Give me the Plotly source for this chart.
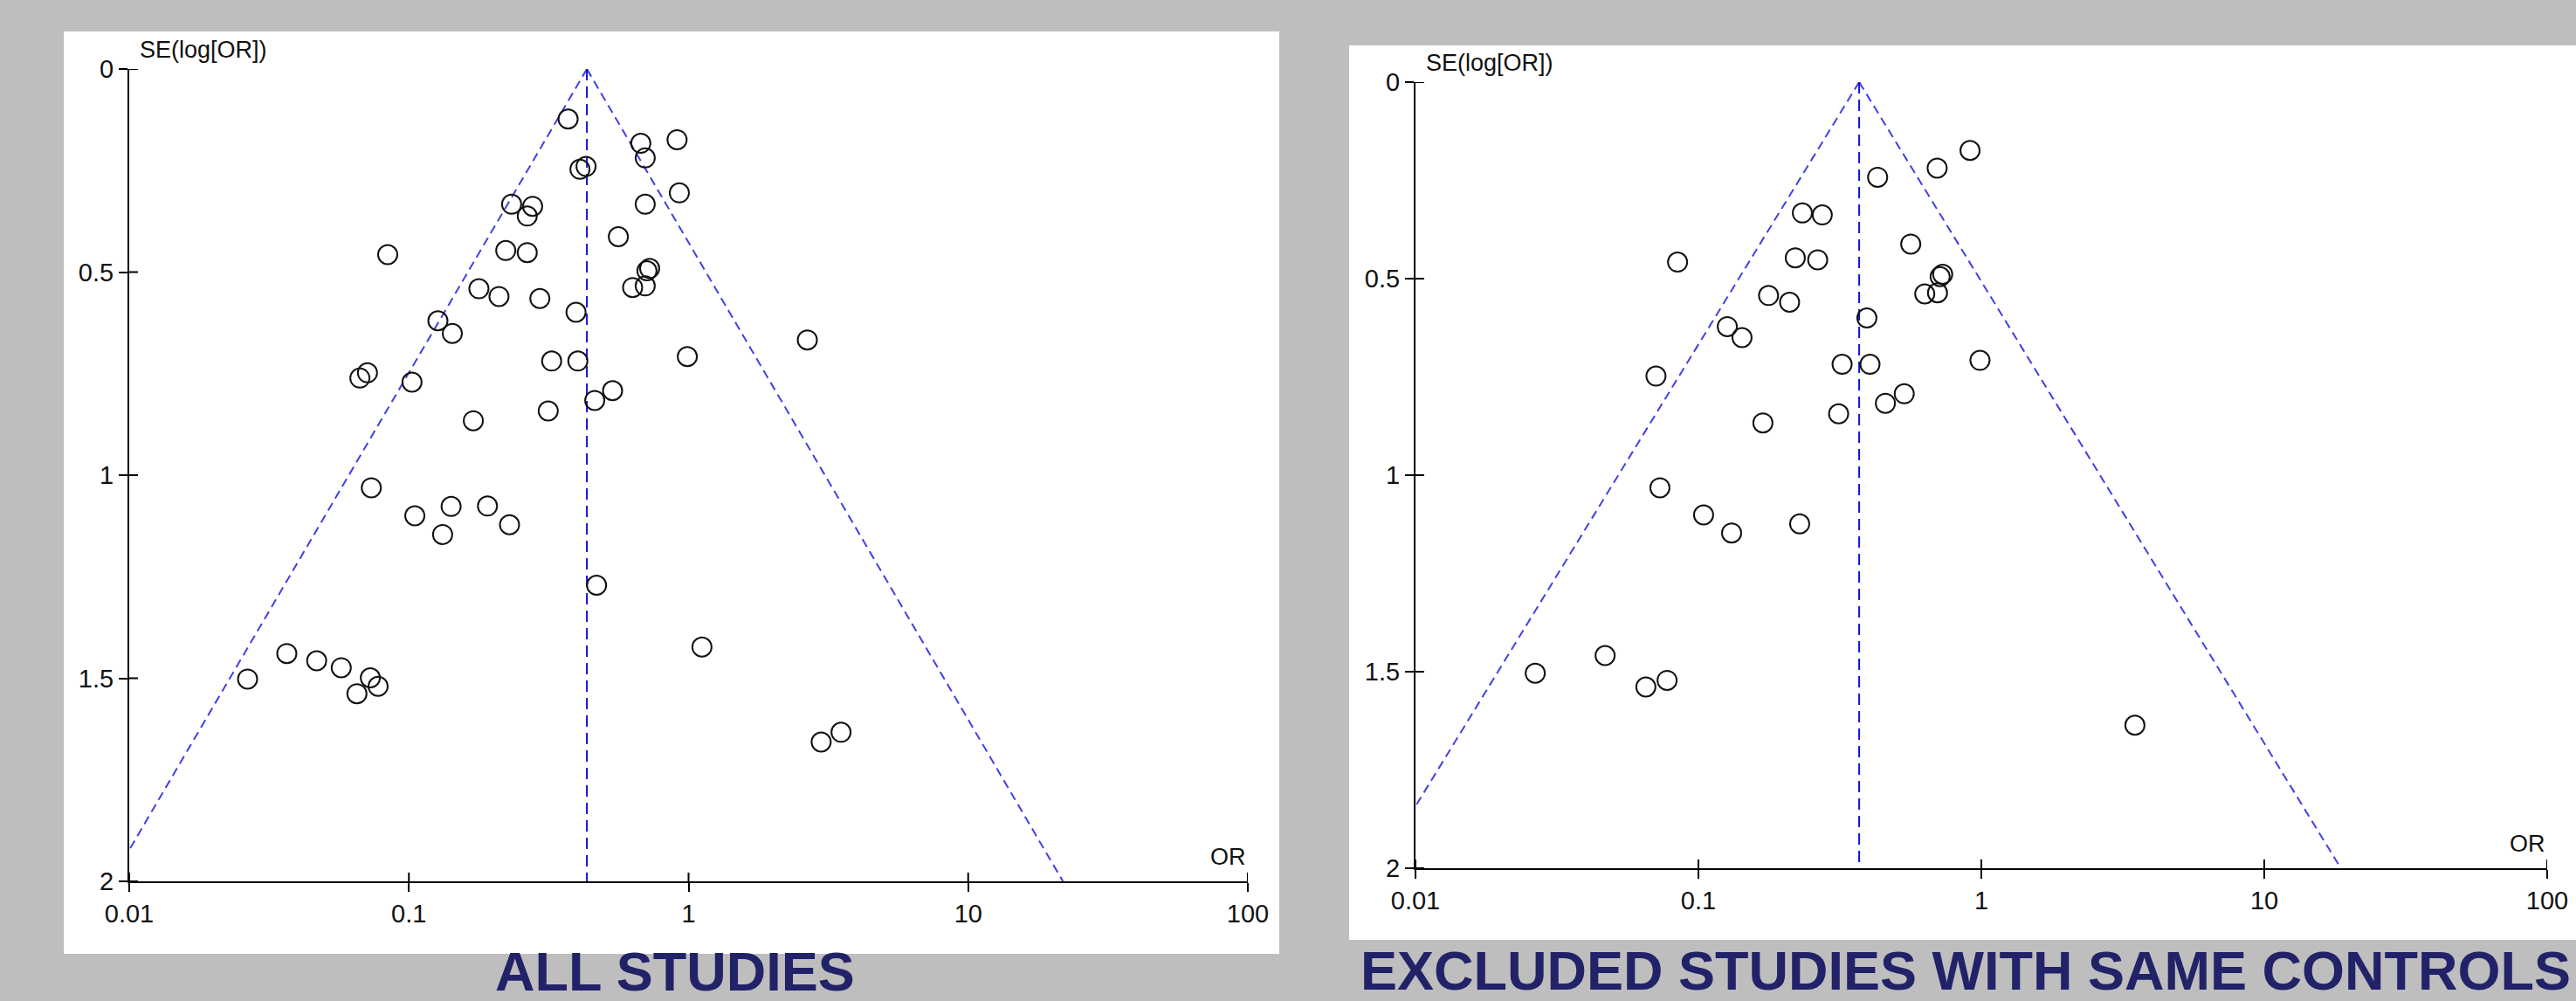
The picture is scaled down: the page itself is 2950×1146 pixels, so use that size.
import math
import plotly.graph_objects as go

W, H = 2950, 1146

# ---------------- data ----------------
x_tick_vals = [0.01, 0.1, 1, 10, 100]
x_tick_text = ["0.01", "0.1", "1", "10", "100"]
y_tick_vals = [0, 0.5, 1, 1.5, 2]
y_tick_text = ["0", "0.5", "1", "1.5", "2"]

# ALL STUDIES: odds ratio and SE(log[OR])
all_or = [0.371, 0.675, 0.91, 0.70, 0.409, 0.43, 0.927, 0.70, 0.233, 0.277,
          0.265, 0.561, 0.084, 0.222, 0.265, 0.726, 0.71, 0.631, 0.70, 0.178,
          0.21, 0.294, 0.396, 0.127, 0.143, 2.66, 0.99, 0.324, 0.402, 0.0711,
          0.0668, 0.1026, 0.535, 0.462, 0.315, 0.170, 0.0734, 0.105, 0.1416, 0.132,
          0.191, 0.229, 0.469, 1.117, 0.0366, 0.0468, 0.0573, 0.0265, 0.0728, 0.0776,
          0.0652, 3.51, 2.98]
all_se = [0.123, 0.183, 0.174, 0.219, 0.247, 0.240, 0.305, 0.333, 0.333, 0.338,
          0.362, 0.413, 0.457, 0.447, 0.452, 0.491, 0.497, 0.538, 0.534, 0.541,
          0.560, 0.565, 0.599, 0.620, 0.651, 0.667, 0.708, 0.719, 0.719, 0.748,
          0.761, 0.771, 0.792, 0.816, 0.842, 0.866, 1.031, 1.100, 1.077, 1.146,
          1.076, 1.122, 1.271, 1.423, 1.439, 1.457, 1.474, 1.502, 1.499, 1.520,
          1.538, 1.633, 1.657]

# EXCLUDED STUDIES WITH SAME CONTROLS
excl_or = [0.912, 0.698, 0.43, 0.233, 0.274, 0.563, 0.0844, 0.22, 0.264, 0.73,
           0.715, 0.631, 0.70, 0.177, 0.21, 0.394, 0.1265, 0.1426, 0.989, 0.0708,
           0.322, 0.404, 0.534, 0.458, 0.313, 0.169, 0.0731, 0.1043, 0.131, 0.228,
           0.0468, 0.0265, 0.0775, 0.0652, 3.49]
excl_se = [0.174, 0.219, 0.242, 0.333, 0.338, 0.412, 0.458, 0.447, 0.452, 0.489,
           0.495, 0.539, 0.536, 0.543, 0.560, 0.600, 0.622, 0.650, 0.708, 0.748,
           0.718, 0.718, 0.793, 0.817, 0.844, 0.867, 1.032, 1.101, 1.147, 1.124,
           1.459, 1.504, 1.522, 1.539, 1.636]

pooled_or = [0.433, 0.37]          # summary OR of each panel
funnel_se = [0, 2]                 # SE range of the pseudo-95% funnel
z95 = 1.96
panel_titles = ["ALL STUDIES", "EXCLUDED STUDIES WITH SAME CONTROLS"]
y_label = "SE(log[OR])"
x_label = "OR"

# ---------------- layout helpers ----------------
def px(x):
    return x / W

def py(y):
    return 1 - y / H

# plot areas (pixels): x0, x1, y_top, y_bottom
areas = [(148, 1429, 79, 1009), (1621, 2917, 94, 994)]
panels = [(73, 1465, 36, 1092), (1545, 2950, 52, 1076)]

tick_font = dict(family="Liberation Sans, Arial, sans-serif", size=29, color="#111111")
label_font = dict(family="Liberation Sans, Arial, sans-serif", size=27, color="#111111")
title_font = dict(family="Liberation Sans, Arial, sans-serif", size=63, color="#222268", weight="bold")

fig = go.Figure()
datasets = [(all_or, all_se), (excl_or, excl_se)]

for i, (ors, ses) in enumerate(datasets):
    xa = "x" if i == 0 else "x2"
    ya = "y" if i == 0 else "y2"
    p = pooled_or[i]
    # funnel limits
    lo = [p * math.exp(-z95 * s) for s in funnel_se]
    hi = [p * math.exp(z95 * s) for s in funnel_se]
    fig.add_trace(go.Scatter(x=lo, y=funnel_se, mode="lines", xaxis=xa, yaxis=ya,
                             line=dict(color="#4040e4", width=2, dash="10px,6px"),
                             hoverinfo="skip", showlegend=False))
    fig.add_trace(go.Scatter(x=hi, y=funnel_se, mode="lines", xaxis=xa, yaxis=ya,
                             line=dict(color="#4040e4", width=2, dash="10px,6px"),
                             hoverinfo="skip", showlegend=False))
    fig.add_trace(go.Scatter(x=[p, p], y=funnel_se, mode="lines", xaxis=xa, yaxis=ya,
                             line=dict(color="#1010d8", width=2, dash="13px,7px"),
                             hoverinfo="skip", showlegend=False))
    fig.add_trace(go.Scatter(x=ors, y=ses, mode="markers", xaxis=xa, yaxis=ya,
                             marker=dict(symbol="circle-open", size=22, color="#111111",
                                         line=dict(width=2, color="#111111")),
                             showlegend=False))

shapes = []
annotations = []
axis_common = dict(showline=True, linecolor="black", linewidth=2, ticks="outside",
                   ticklen=10, tickwidth=2, tickcolor="black", showgrid=False,
                   zeroline=False, tickfont=tick_font, fixedrange=True, automargin=False)

for i, ((x0, x1, yt, yb), (bx0, bx1, byt, byb)) in enumerate(zip(areas, panels)):
    sfx = "" if i == 0 else "2"
    xa_name = "xaxis" + sfx
    ya_name = "yaxis" + sfx
    fig.update_layout(**{
        xa_name: dict(domain=[px(x0), px(x1)], type="log", range=[-2, 2],
                      anchor="y" + sfx, tickvals=x_tick_vals, ticktext=x_tick_text,
                      **axis_common),
        ya_name: dict(domain=[py(yb), py(yt)], range=[2, 0], autorange=False,
                      anchor="x" + sfx, tickvals=y_tick_vals, ticktext=y_tick_text,
                      **axis_common),
    })
    # white panel
    shapes.append(dict(type="rect", xref="paper", yref="paper", x0=px(bx0), x1=px(bx1),
                       y0=py(byb), y1=py(byt), fillcolor="white", line=dict(width=0),
                       layer="below"))
    # inner halves of the crossing ticks
    xr = "x" + sfx
    yr = "y" + sfx
    for v in x_tick_vals:
        shapes.append(dict(type="line", xref=xr, yref=yr + " domain",
                           x0=v, x1=v, y0=0, y1=10 / (yb - yt),
                           line=dict(color="black", width=2)))
    for v in y_tick_vals:
        shapes.append(dict(type="line", xref=xr + " domain", yref=yr,
                           x0=0, x1=10 / (x1 - x0), y0=v, y1=v,
                           line=dict(color="black", width=2)))
    annotations.append(dict(text=y_label, xref=xr + " domain", yref=yr + " domain",
                            x=0, y=1, xanchor="left", yanchor="bottom", xshift=10, yshift=5,
                            showarrow=False, font=label_font))
    annotations.append(dict(text=x_label, xref=xr + " domain", yref=yr + " domain",
                            x=1, y=0, xanchor="right", yanchor="bottom", yshift=11,
                            showarrow=False, font=label_font))

annotations.append(dict(text=panel_titles[0], xref="paper", yref="paper",
                        x=px(773), y=py(1075), xanchor="center", yanchor="top",
                        showarrow=False, font=title_font))
annotations.append(dict(text=panel_titles[1], xref="paper", yref="paper",
                        x=px(1556), y=py(1074), xanchor="left", yanchor="top",
                        showarrow=False, font=title_font))

fig.update_layout(width=W, height=H, autosize=False,
                  margin=dict(l=0, r=0, t=0, b=0, pad=0, autoexpand=False),
                  paper_bgcolor="#bebebe", plot_bgcolor="rgba(0,0,0,0)",
                  shapes=shapes, annotations=annotations, showlegend=False)

fig.write_html("out.html")
